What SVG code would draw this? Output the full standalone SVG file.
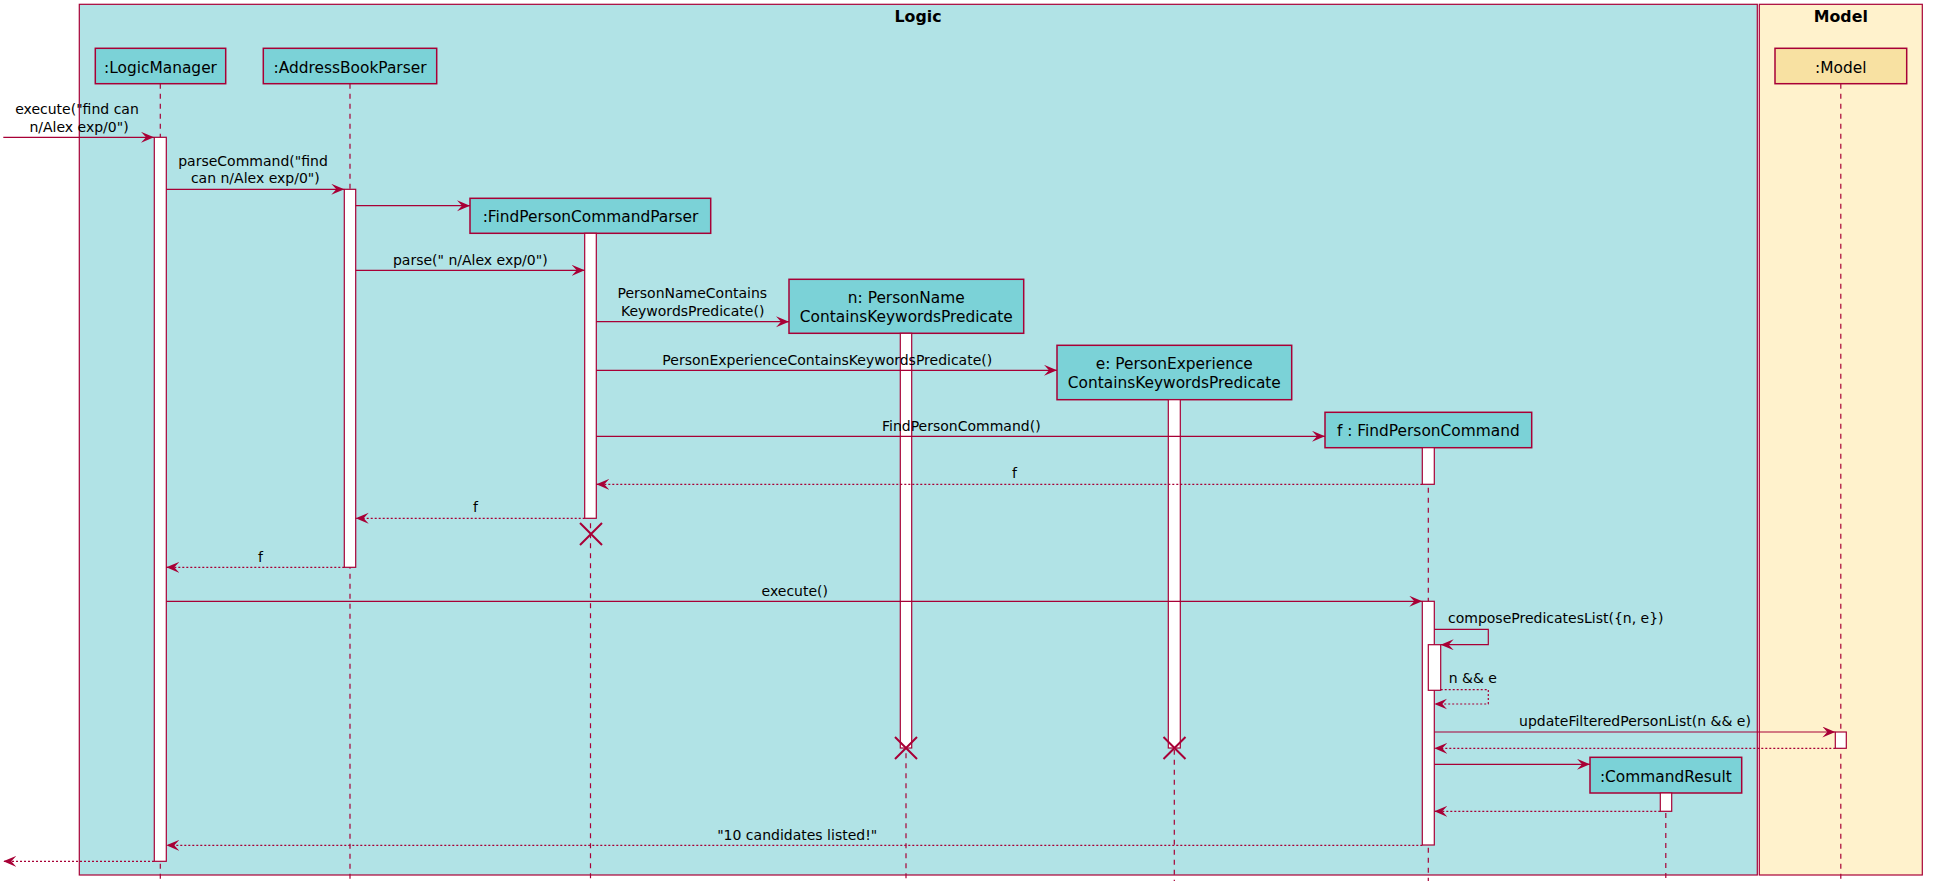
<svg xmlns="http://www.w3.org/2000/svg" width="1933" height="894" viewBox="0 0 1933 894">
<style>
.box{stroke:#A80036;stroke-width:1.2}
.logic{fill:#B1E3E6}
.model{fill:#FFF2CC}
.title{font-family:"DejaVu Sans",sans-serif;font-weight:bold;font-size:15.8px;fill:#000;text-anchor:middle}
.pbox{fill:#7BD2D7;stroke:#A80036;stroke-width:1.5}
.mbox{fill:#F8E1A2;stroke:#A80036;stroke-width:1.5}
.ptext{font-family:"DejaVu Sans",sans-serif;font-size:15.4px;fill:#000;text-anchor:middle}
.life{stroke:#A80036;stroke-width:1.2;stroke-dasharray:5,5;fill:none}
.act{fill:#FFFFFF;stroke:#A80036;stroke-width:1.2}
.msg{stroke:#A80036;stroke-width:1.2;fill:none}
.ret{stroke:#A80036;stroke-width:1.2;fill:none;stroke-dasharray:2,2}
.mtext{font-family:"DejaVu Sans",sans-serif;font-size:14px;fill:#000;text-anchor:middle}
.mstart{font-family:"DejaVu Sans",sans-serif;font-size:14px;fill:#000;text-anchor:start}
.kill{stroke:#A80036;stroke-width:2;fill:none}
</style>
<defs>
<marker id="ah" markerWidth="14" markerHeight="12" refX="13" refY="5.5" orient="auto" markerUnits="userSpaceOnUse">
<polygon points="0,0 13,5.5 0,11 5,5.5" fill="#A80036"/>
</marker>
</defs>
<g id="frame-logic">
<rect class="box logic" x="79.3" y="4.3" width="1678" height="870.7"/>
<text class="title" x="918" y="21.7">Logic</text>
</g>
<g id="frame-model">
<rect class="box model" x="1759.3" y="4.3" width="163" height="870.7"/>
<text class="title" x="1840.8" y="21.7">Model</text>
</g>
<g id="lifelines">
<line class="life" x1="160.3" y1="83.7" x2="160.3" y2="881"/>
<line class="life" x1="350" y1="83.7" x2="350" y2="881"/>
<line class="life" x1="590.5" y1="233.3" x2="590.5" y2="881"/>
<line class="life" x1="906" y1="333.3" x2="906" y2="881"/>
<line class="life" x1="1174.3" y1="399.7" x2="1174.3" y2="881"/>
<line class="life" x1="1428.3" y1="447.7" x2="1428.3" y2="881"/>
<line class="life" x1="1665.8" y1="793" x2="1665.8" y2="878"/>
<line class="life" x1="1840.8" y1="83.7" x2="1840.8" y2="881"/>
</g>
<g id="LogicManager">
<rect class="pbox" x="95.3" y="48.3" width="130.4" height="35.4"/>
<text class="ptext" x="160.5" y="72.7">:LogicManager</text>
<rect class="act" x="154.3" y="137.3" width="12" height="724"/>
</g>
<g id="AddressBookParser">
<rect class="pbox" x="263.3" y="48.3" width="173.4" height="35.4"/>
<text class="ptext" x="350" y="72.7">:AddressBookParser</text>
<rect class="act" x="344.3" y="189.3" width="11.4" height="378"/>
</g>
<g id="FindPersonCommandParser">
<rect class="pbox" x="470" y="198.3" width="240.7" height="35"/>
<text class="ptext" x="590.5" y="222">:FindPersonCommandParser</text>
<rect class="act" x="584.7" y="233.3" width="11.6" height="285"/>
<path class="kill" d="M580,523 L602,545 M602,523 L580,545"/>
</g>
<g id="PersonNameContainsKeywordsPredicate">
<rect class="pbox" x="789" y="279.3" width="234.7" height="54"/>
<text class="ptext" x="906.3" y="302.7">n: PersonName</text>
<text class="ptext" x="906.3" y="321.7">ContainsKeywordsPredicate</text>
<rect class="act" x="900.3" y="333.3" width="11.4" height="414.7"/>
<path class="kill" d="M895,737 L917,759 M917,737 L895,759"/>
</g>
<g id="PersonExperienceContainsKeywordsPredicate">
<rect class="pbox" x="1057" y="345.3" width="234.7" height="54.4"/>
<text class="ptext" x="1174.3" y="369.3">e: PersonExperience</text>
<text class="ptext" x="1174.3" y="388.3">ContainsKeywordsPredicate</text>
<rect class="act" x="1168.3" y="399.7" width="12" height="348.3"/>
<path class="kill" d="M1163.5,737 L1185.5,759 M1185.5,737 L1163.5,759"/>
</g>
<g id="FindPersonCommand">
<rect class="pbox" x="1325" y="412.3" width="206.7" height="35.4"/>
<text class="ptext" x="1428.3" y="436.3">f : FindPersonCommand</text>
<rect class="act" x="1422.3" y="447.7" width="12" height="36.6"/>
<rect class="act" x="1422.3" y="601.3" width="12" height="243.7"/>
<rect class="act" x="1428.3" y="644.7" width="12.4" height="45.6"/>
</g>
<g id="CommandResult">
<rect class="pbox" x="1590" y="757.3" width="151.7" height="35.7"/>
<text class="ptext" x="1665.8" y="781.5">:CommandResult</text>
<rect class="act" x="1660.3" y="793" width="11.4" height="18.3"/>
</g>
<g id="Model">
<rect class="mbox" x="1775" y="48.3" width="131.7" height="35.4"/>
<text class="ptext" x="1840.8" y="72.7">:Model</text>
<rect class="act" x="1835.3" y="732" width="11" height="16.3"/>
</g>
<g id="connectors">
<line class="msg" x1="3.3" y1="137.3" x2="154" y2="137.3" marker-end="url(#ah)"/>
<line class="msg" x1="166.3" y1="189.3" x2="344.3" y2="189.3" marker-end="url(#ah)"/>
<line class="msg" x1="355.7" y1="205.7" x2="470" y2="205.7" marker-end="url(#ah)"/>
<line class="msg" x1="355.7" y1="270.3" x2="584.7" y2="270.3" marker-end="url(#ah)"/>
<line class="msg" x1="596.3" y1="321.7" x2="789" y2="321.7" marker-end="url(#ah)"/>
<line class="msg" x1="596.3" y1="370.3" x2="1057" y2="370.3" marker-end="url(#ah)"/>
<line class="msg" x1="596.3" y1="436.3" x2="1325" y2="436.3" marker-end="url(#ah)"/>
<line class="ret" x1="1422.3" y1="484.3" x2="596.3" y2="484.3" marker-end="url(#ah)"/>
<line class="ret" x1="584.7" y1="518.3" x2="355.7" y2="518.3" marker-end="url(#ah)"/>
<line class="ret" x1="344.3" y1="567.3" x2="166.3" y2="567.3" marker-end="url(#ah)"/>
<line class="msg" x1="166.3" y1="601.3" x2="1422.3" y2="601.3" marker-end="url(#ah)"/>
<polyline class="msg" points="1434.3,629.3 1488.3,629.3 1488.3,644.7 1440.7,644.7" marker-end="url(#ah)"/>
<polyline class="ret" points="1440.7,689.7 1488.3,689.7 1488.3,704 1434.3,704" marker-end="url(#ah)"/>
<line class="msg" x1="1434.3" y1="732" x2="1835.3" y2="732" marker-end="url(#ah)"/>
<line class="ret" x1="1835.3" y1="748.3" x2="1434.3" y2="748.3" marker-end="url(#ah)"/>
<line class="msg" x1="1434.3" y1="764.3" x2="1590" y2="764.3" marker-end="url(#ah)"/>
<line class="ret" x1="1660.3" y1="811.3" x2="1434.3" y2="811.3" marker-end="url(#ah)"/>
<line class="ret" x1="1422.3" y1="845.3" x2="166.3" y2="845.3" marker-end="url(#ah)"/>
<line class="ret" x1="154" y1="861.3" x2="3.3" y2="861.3" marker-end="url(#ah)"/>
<text class="mtext" x="77" y="114.3">execute("find can</text>
<text class="mtext" x="79" y="131.7">n/Alex exp/0")</text>
<text class="mtext" x="253" y="165.7">parseCommand("find</text>
<text class="mtext" x="255.3" y="183.3">can n/Alex exp/0")</text>
<text class="mtext" x="470.3" y="265">parse(" n/Alex exp/0")</text>
<text class="mtext" x="692.3" y="298.3">PersonNameContains</text>
<text class="mtext" x="692.7" y="316">KeywordsPredicate()</text>
<text class="mtext" x="827.3" y="365">PersonExperienceContainsKeywordsPredicate()</text>
<text class="mtext" x="961.3" y="431">FindPersonCommand()</text>
<text class="mtext" x="1014.5" y="478.3">f</text>
<text class="mtext" x="475.5" y="511.7">f</text>
<text class="mtext" x="260.5" y="561.7">f</text>
<text class="mtext" x="794.8" y="596">execute()</text>
<text class="mstart" x="1448" y="623.3">composePredicatesList({n, e})</text>
<text class="mstart" x="1448.7" y="683.3">n &amp;&amp; e</text>
<text class="mtext" x="1635" y="725.7">updateFilteredPersonList(n &amp;&amp; e)</text>
<text class="mtext" x="797.2" y="840">"10 candidates listed!"</text>
</g>
</svg>
